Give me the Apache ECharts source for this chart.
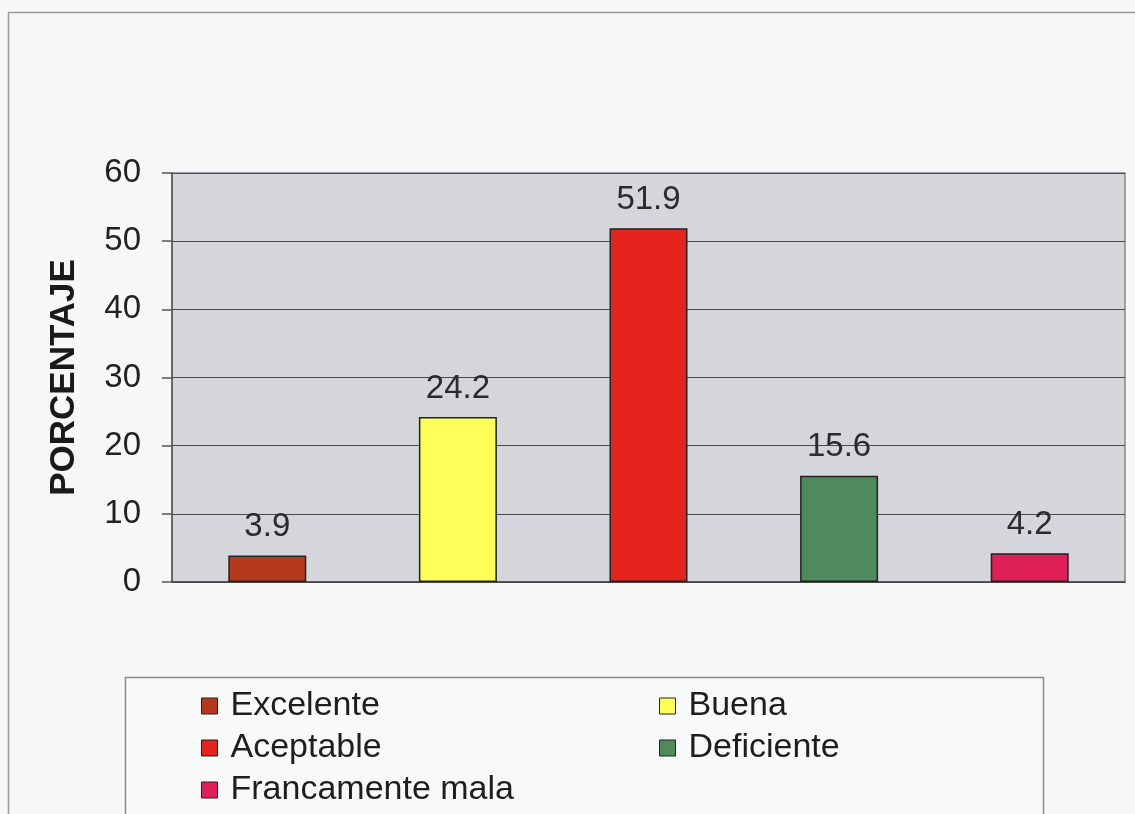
<!DOCTYPE html>
<html>
<head>
<meta charset="utf-8">
<script src="https://cdn.jsdelivr.net/npm/echarts@6/dist/echarts.min.js"></script>
<style>
  html, body { margin: 0; padding: 0; background: #f6f8f8; }
  #chart { width: 1135px; height: 814px; }
</style>
</head>
<body>
<div id="chart"></div>
<script>
// Ratings and their share of responses (%)
const categories = ['Excelente', 'Buena', 'Aceptable', 'Deficiente', 'Francamente mala'];
const percentages = [3.9, 24.2, 51.9, 15.6, 4.2];
const barColors = ['#b5381d', '#ffff5a', '#e5241f', '#4f8a5d', '#de1f58'];
const yTicks = { min: 0, max: 60, interval: 10 };

const font = '"Liberation Sans", Arial, sans-serif';

// One series per rating so each gets its own legend entry; stacking keeps
// every bar centred in its own category band.
const series = categories.map((name, i) => ({
  name: name,
  type: 'bar',
  stack: 'all',
  barWidth: 78,
  data: categories.map((_, j) => (j === i ? percentages[i] : '-')),
  itemStyle: { color: barColors[i], borderColor: '#222', borderWidth: 1.5 },
  label: {
    show: true,
    position: 'top',
    distance: 12,
    fontFamily: font,
    fontSize: 33,
    color: '#2b2b2b',
    formatter: p => p.value.toFixed(1)
  }
}));

// Legend laid out as a two-column grid: [column, row] for each rating
const legendCells = [[0, 0], [1, 0], [0, 1], [1, 1], [0, 2]];
const legendColumns = [196, 654];
const legendRowTop = 684;
const legendRowPitch = 42;

const legends = categories.map((name, i) => ({
  data: [name],
  left: legendColumns[legendCells[i][0]],
  top: legendRowTop + legendCells[i][1] * legendRowPitch,
  itemWidth: 16,
  itemHeight: 16,
  icon: 'rect',
  selectedMode: false,
  textStyle: {
    fontFamily: font,
    fontSize: 34,
    color: '#1e1e1e',
    lineHeight: 32,
    padding: [0, 0, 0, 8]
  },
  itemStyle: { borderColor: '#222', borderWidth: 1 }
}));

const chart = echarts.init(document.getElementById('chart'), null, { renderer: 'canvas' });
chart.setOption({
  backgroundColor: '#f6f8f8',
  animation: false,
  graphic: [
    { type: 'rect', shape: { x: 8.5, y: 12.5, width: 1140, height: 820 },
      style: { fill: 'none', stroke: '#9a9a9a', lineWidth: 1.5 }, z: -1 },
    { type: 'rect', shape: { x: 125.5, y: 677.5, width: 918, height: 160 },
      style: { fill: '#f8fafa', stroke: '#8a8a8a', lineWidth: 1.5 }, z: -1 }
  ],
  legend: legends,
  grid: {
    left: 172, right: 10, top: 173, bottom: 232,
    show: true,
    backgroundColor: '#d4d6db',
    borderColor: '#858585',
    borderWidth: 1.5
  },
  xAxis: {
    type: 'category',
    data: categories,
    axisLine: { show: true, lineStyle: { color: '#444', width: 1.5 } },
    axisTick: { show: false },
    axisLabel: { show: false },
    splitLine: { show: false }
  },
  yAxis: {
    type: 'value',
    min: yTicks.min,
    max: yTicks.max,
    interval: yTicks.interval,
    name: 'PORCENTAJE',
    nameLocation: 'middle',
    nameGap: 90,
    nameTextStyle: { fontFamily: font, fontSize: 35, fontWeight: 'bold', color: '#1a1a1a' },
    axisLine: { show: true, lineStyle: { color: '#555', width: 1.5 } },
    axisTick: { show: true, length: 10, lineStyle: { color: '#555', width: 1.5 } },
    axisLabel: { fontFamily: font, fontSize: 33, color: '#222', margin: 31 },
    splitLine: { show: true, lineStyle: { color: '#4a4a4a', width: 1.2 } }
  },
  series: series
});
</script>
</body>
</html>
